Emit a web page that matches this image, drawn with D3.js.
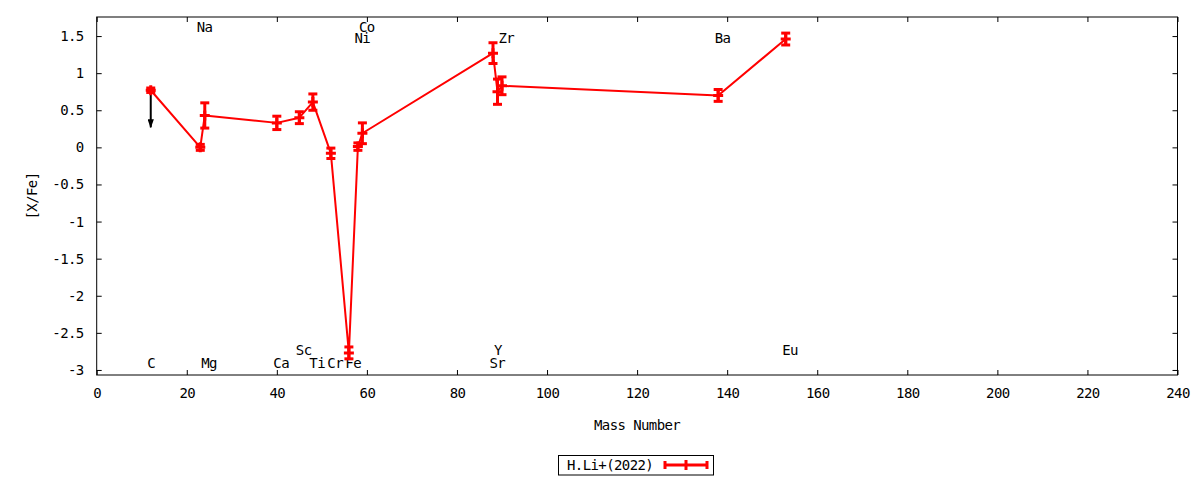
<!DOCTYPE html>
<html>
<head>
<meta charset="utf-8">
<script src="https://cdn.jsdelivr.net/npm/d3@7"></script>
<style>
    body { margin: 0; background: #fff; }
    text { font-family: "DejaVu Sans Mono", monospace; font-size: 14px; letter-spacing: -0.6px; fill: #000; }
</style>
</head>
<body>
<svg id="chart"></svg>
<script>
// abundance pattern, [X/Fe] against mass number
const elements   = ['C', 'Na', 'Mg', 'Ca', 'Sc', 'Ti', 'Cr', 'Fe', 'Ni', 'Co', 'Sr', 'Y', 'Zr', 'Ba', 'Eu'];
const massNumber = [12, 23, 24, 40, 45, 48, 52, 56, 58, 59, 88, 89, 90, 138, 153];
const xFe        = [0.77, 0.00, 0.43, 0.33, 0.40, 0.61, -0.08, -2.77, 0.01, 0.19, 1.27, 0.75, 0.83, 0.70, 1.46];
const xFeErr     = [0.03, 0.04, 0.17, 0.09, 0.08, 0.11, 0.07, 0.08, 0.05, 0.14, 0.14, 0.17, 0.12, 0.08, 0.08];
// element name labels, y in data units
const labelY     = [-2.91, 1.62, -2.91, -2.91, -2.73, -2.91, -2.91, -2.91, 1.48, 1.62, -2.91, -2.73, 1.48, 1.48, -2.73];
// upper limits (arrow down to)
const limitElements = ['C'];
const limitTo       = [0.27];

const xTicks = [0, 20, 40, 60, 80, 100, 120, 140, 160, 180, 200, 220, 240];
const yTicks = [-3, -2.5, -2, -1.5, -1, -0.5, 0, 0.5, 1, 1.5];
const xDomain = [0, 240];
const yDomain = [-3.068, 1.757];
const seriesName = 'H.Li+(2022)';

class AbundancePlot {
    constructor(_config, _data) {
        this.config = {
            parentElement: _config.parentElement,
            containerWidth: _config.containerWidth || 1200,
            containerHeight: _config.containerHeight || 480,
            margin: { top: 17, bottom: 105, right: 22.5, left: 96.7 }
        }
        this.data = _data;
        this.initVis();
    }

    initVis() {
        let vis = this;
        vis.width = vis.config.containerWidth - vis.config.margin.left - vis.config.margin.right;
        vis.height = vis.config.containerHeight - vis.config.margin.top - vis.config.margin.bottom;

        vis.svg = d3.select(vis.config.parentElement)
            .attr('width', vis.config.containerWidth)
            .attr('height', vis.config.containerHeight);
        vis.chart = vis.svg.append('g')
            .attr('transform', `translate(${vis.config.margin.left},${vis.config.margin.top})`);

        vis.xScale = d3.scaleLinear().domain(xDomain).range([0, vis.width]);
        vis.yScale = d3.scaleLinear().domain(yDomain).range([vis.height, 0]);

        vis.svg.append('defs').append('marker')
            .attr('id', 'arrowhead')
            .attr('viewBox', '0 0 10 7')
            .attr('refX', 9).attr('refY', 3.5)
            .attr('markerWidth', 4.5).attr('markerHeight', 3.2)
            .attr('markerUnits', 'strokeWidth')
            .attr('orient', 'auto')
            .append('path')
            .attr('d', 'M0,0 L10,3.5 L0,7 z')
            .attr('fill', '#000');

        vis.updateVis();
    }

    updateVis() {
        let vis = this;
        const fmt = d => String(d);

        // axes, gnuplot style: inward ticks mirrored on all four sides
        vis.chart.append('g')
            .attr('class', 'axis y-axis')
            .call(d3.axisLeft(vis.yScale).tickValues(yTicks).tickFormat(fmt).tickSize(-5).tickPadding(13));
        vis.chart.append('g')
            .attr('class', 'axis')
            .attr('transform', `translate(${vis.width},0)`)
            .call(d3.axisRight(vis.yScale).tickValues(yTicks).tickFormat('').tickSize(-5));
        vis.chart.append('g')
            .attr('class', 'axis x-axis')
            .attr('transform', `translate(0,${vis.height})`)
            .call(d3.axisBottom(vis.xScale).tickValues(xTicks).tickFormat(fmt).tickSize(-5).tickPadding(13));
        vis.chart.append('g')
            .attr('class', 'axis')
            .call(d3.axisTop(vis.xScale).tickValues(xTicks).tickFormat('').tickSize(-5));

        vis.chart.selectAll('.axis .domain').remove();
        vis.chart.selectAll('.axis text')
            .attr('fill', '#000')
            .style('font-family', '"DejaVu Sans Mono", monospace')
            .style('font-size', '14px');
        vis.chart.selectAll('.axis line').attr('stroke', '#000');

        vis.chart.append('rect')
            .attr('width', vis.width)
            .attr('height', vis.height)
            .attr('fill', 'none')
            .attr('stroke', '#000')
            .attr('stroke-width', 1);

        // element labels
        vis.chart.selectAll('.el-label')
            .data(vis.data)
            .enter()
            .append('text')
            .attr('class', 'el-label')
            .attr('x', d => vis.xScale(d.x))
            .attr('y', d => vis.yScale(d.labelY))
            .attr('dx', -3.5)
            .attr('dy', '0.36em')
            .text(d => d.el);

        // axis titles
        vis.svg.append('text')
            .attr('x', vis.config.margin.left + vis.width / 2)
            .attr('y', 430)
            .attr('text-anchor', 'middle')
            .text('Mass Number');
        vis.svg.append('text')
            .attr('transform', `translate(37,${vis.config.margin.top + vis.height / 2}) rotate(-90)`)
            .attr('text-anchor', 'middle')
            .text('[X/Fe]');

        // upper limit arrows
        const limits = limitElements.map((el, i) => {
            let d = vis.data.find(p => p.el === el);
            return { x: d.x, y0: d.y, y1: limitTo[i] };
        });
        vis.chart.selectAll('.limit')
            .data(limits)
            .enter()
            .append('line')
            .attr('class', 'limit')
            .attr('x1', d => vis.xScale(d.x))
            .attr('x2', d => vis.xScale(d.x))
            .attr('y1', d => vis.yScale(d.y0))
            .attr('y2', d => vis.yScale(d.y1))
            .attr('stroke', '#000')
            .attr('stroke-width', 2)
            .attr('marker-end', 'url(#arrowhead)');

        // connecting line
        const line = d3.line()
            .x(d => vis.xScale(d.x))
            .y(d => vis.yScale(d.y));
        vis.chart.append('path')
            .datum(vis.data)
            .attr('d', line)
            .attr('fill', 'none')
            .attr('stroke', '#ff0000')
            .attr('stroke-width', 2)
            .attr('stroke-linejoin', 'round');

        // error bars with caps, plus a point mark
        const bars = vis.chart.selectAll('.errbar')
            .data(vis.data)
            .enter()
            .append('g')
            .attr('class', 'errbar')
            .attr('stroke', '#ff0000')
            .attr('stroke-width', 3);
        bars.append('line')
            .attr('x1', d => vis.xScale(d.x))
            .attr('x2', d => vis.xScale(d.x))
            .attr('y1', d => vis.yScale(d.y - d.err))
            .attr('y2', d => vis.yScale(d.y + d.err));
        bars.append('line')
            .attr('x1', d => vis.xScale(d.x) - 4.5)
            .attr('x2', d => vis.xScale(d.x) + 4.5)
            .attr('y1', d => vis.yScale(d.y + d.err))
            .attr('y2', d => vis.yScale(d.y + d.err));
        bars.append('line')
            .attr('x1', d => vis.xScale(d.x) - 4.5)
            .attr('x2', d => vis.xScale(d.x) + 4.5)
            .attr('y1', d => vis.yScale(d.y - d.err))
            .attr('y2', d => vis.yScale(d.y - d.err));
        bars.append('path')
            .attr('d', d => {
                let px = vis.xScale(d.x), py = vis.yScale(d.y);
                return `M${px - 5},${py}H${px + 5}M${px},${py - 5}V${py + 5}`;
            });

        // legend
        const lg = vis.svg.append('g').attr('class', 'legend');
        lg.append('rect')
            .attr('x', 558.5).attr('y', 455.5)
            .attr('width', 155).attr('height', 19.5)
            .attr('fill', '#fff')
            .attr('stroke', '#000')
            .attr('stroke-width', 1);
        lg.append('text')
            .attr('x', 567).attr('y', 465)
            .attr('dy', '0.36em')
            .text(seriesName);
        lg.append('path')
            .attr('d', 'M665,465H707M665,461V469M707,461V469M686,460V470')
            .attr('stroke', '#ff0000')
            .attr('stroke-width', 3)
            .attr('fill', 'none');
    }
}

let points = elements.map((el, i) => ({
    el: el,
    x: massNumber[i],
    y: xFe[i],
    err: xFeErr[i],
    labelY: labelY[i]
}));

let plot = new AbundancePlot({ parentElement: '#chart', containerWidth: 1200, containerHeight: 480 }, points);
</script>
</body>
</html>
